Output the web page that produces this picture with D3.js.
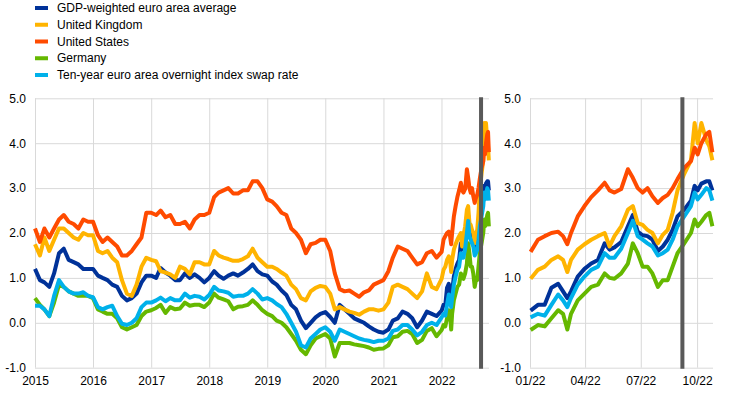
<!DOCTYPE html>
<html>
<head>
<meta charset="utf-8">
<script src="https://cdnjs.cloudflare.com/ajax/libs/d3/7.8.5/d3.min.js"></script>
<style>
  body { margin: 0; background: #fff; }
  svg { display: block; font-family: Arial, "Liberation Sans", sans-serif; }
</style>
</head>
<body>
<svg id="chart" width="742" height="393"></svg>
<script>
// legend / series
const seriesNames = [
    "GDP-weighted euro area average",
    "United Kingdom",
    "United States",
    "Germany",
    "Ten-year euro area overnight index swap rate"
];
const seriesColors = ["#003299", "#FFB400", "#FF4B00", "#65B800", "#00B1EA"];

// month starts 2015-2021, then finer points through 2022
const dates2022 = ["2022-01-02","2022-01-14","2022-01-25","2022-02-05","2022-02-16","2022-02-24",
    "2022-03-03","2022-03-09","2022-03-20","2022-03-31","2022-04-11","2022-04-22","2022-05-03",
    "2022-05-11","2022-05-19","2022-05-30","2022-06-10","2022-06-18","2022-06-26","2022-07-04",
    "2022-07-12","2022-07-20","2022-07-29","2022-08-06","2022-08-14","2022-08-22","2022-08-30",
    "2022-09-10","2022-09-21","2022-09-27","2022-10-02","2022-10-08","2022-10-16","2022-10-21",
    "2022-10-26"];

const euroArea = [
    1.2, 0.95, 0.9, 0.8, 1.1, 1.55, 1.65, 1.4, 1.35, 1.3, 1.2, 1.2,
    1.2, 1.05, 1.0, 0.95, 0.85, 0.8, 0.6, 0.5, 0.55, 0.65, 0.9, 1.05,
    1.05, 1.0, 1.22, 1.12, 1.05, 0.95, 0.95, 1.1, 1.0, 1.08, 1.0, 0.9,
    1.0, 1.15, 1.05, 0.98, 1.05, 1.1, 1.05, 1.12, 1.2, 1.3, 1.15, 1.08,
    1.05, 0.92, 0.85, 0.72, 0.62, 0.4, 0.3, 0.05, -0.12, 0.0, 0.12, 0.2,
    0.24, 0.13, 0.0, 0.4, 0.3, 0.2, 0.1, 0.05, 0.0, -0.08, -0.15, -0.2,
    -0.22, -0.15, 0.05, 0.1, 0.25, 0.2, 0.1, -0.1, 0.05, 0.25, 0.2, 0.15,
    0.27, 0.4, 0.4, 0.78, 0.87, 0.7, 0.55, 0.7, 1.03, 1.2, 1.32, 1.4, 1.77, 1.63, 1.68, 1.8,
    2.15, 2.4, 2.03, 1.95, 1.93, 1.85, 1.6, 1.7, 1.85, 2.07, 2.37, 2.52, 2.72, 3.05, 2.95,
    3.1, 3.15, 3.15, 2.95
];
const unitedKingdom = [
    1.75, 1.5, 1.9, 1.6, 1.85, 2.1, 2.1, 2.0, 1.9, 1.85, 2.0, 1.95,
    1.95, 1.6, 1.55, 1.6, 1.45, 1.35, 0.95, 0.65, 0.6, 0.85, 1.25, 1.45,
    1.4, 1.37, 1.15, 1.12, 1.08, 1.0, 1.25, 1.2, 1.08, 1.35, 1.35, 1.3,
    1.3, 1.6, 1.5, 1.45, 1.42, 1.38, 1.38, 1.42, 1.48, 1.65, 1.45, 1.35,
    1.25, 1.25, 1.2, 1.12, 1.05, 0.85, 0.75, 0.55, 0.5, 0.7, 0.78, 0.82,
    0.8, 0.65, 0.3, 0.35, 0.3, 0.25, 0.22, 0.18, 0.25, 0.3, 0.3, 0.27,
    0.3, 0.45, 0.8, 0.85, 0.8, 0.75, 0.65, 0.55, 0.7, 1.1, 0.8, 0.75,
    0.98, 1.18, 1.25, 1.4, 1.48, 1.4, 1.13, 1.4, 1.63, 1.75, 1.85, 1.93, 2.0, 1.7, 1.93, 2.15,
    2.52, 2.6, 2.22, 2.18, 2.07, 2.0, 1.77, 1.96, 2.07, 2.45, 2.95, 3.32, 3.62, 4.45, 4.0,
    4.45, 4.07, 3.93, 3.62
];
const unitedStates = [
    2.1, 1.8, 2.1, 1.9, 2.1, 2.3, 2.4, 2.25, 2.2, 2.1, 2.3, 2.25,
    2.25, 1.95, 1.8, 1.9, 1.8, 1.7, 1.5, 1.5, 1.6, 1.75, 1.9, 2.45,
    2.45, 2.4, 2.5, 2.35, 2.4, 2.2, 2.2, 2.25, 2.1, 2.3, 2.4, 2.4,
    2.45, 2.8, 2.9, 2.95, 3.0, 2.88, 2.88, 2.95, 2.95, 3.15, 3.15, 3.0,
    2.75, 2.7, 2.6, 2.45, 2.4, 2.1, 2.0, 1.85, 1.55, 1.75, 1.78, 1.85,
    1.85, 1.6, 1.1, 0.75, 0.7, 0.72, 0.65, 0.58, 0.68, 0.72, 0.85, 0.9,
    0.95, 1.15, 1.45, 1.7, 1.65, 1.6, 1.45, 1.3, 1.35, 1.55, 1.6, 1.45,
    1.58, 1.85, 1.93, 2.0, 2.03, 1.93, 1.75, 2.0, 2.37, 2.6, 2.8, 2.95, 3.12, 2.95, 2.9, 2.98,
    3.42, 3.23, 3.0, 2.9, 3.0, 2.82, 2.67, 2.78, 2.85, 3.0, 3.2, 3.45, 3.6, 3.9, 3.75,
    4.0, 4.2, 4.25, 3.8
];
const germany = [
    0.55, 0.4, 0.3, 0.15, 0.45, 0.85, 0.8, 0.7, 0.65, 0.6, 0.6, 0.6,
    0.55, 0.3, 0.25, 0.2, 0.2, 0.1, -0.1, -0.15, -0.1, -0.05, 0.15, 0.25,
    0.28, 0.33, 0.4, 0.22, 0.35, 0.3, 0.32, 0.45, 0.38, 0.4, 0.4, 0.35,
    0.45, 0.65, 0.56, 0.52, 0.48, 0.3, 0.36, 0.37, 0.4, 0.5, 0.4, 0.28,
    0.2, 0.15, 0.05, 0.0, -0.1, -0.25, -0.4, -0.6, -0.7, -0.5, -0.35, -0.3,
    -0.25, -0.35, -0.75, -0.45, -0.45, -0.45, -0.48, -0.5, -0.52, -0.55, -0.6, -0.58,
    -0.57, -0.5, -0.32, -0.3, -0.2, -0.18, -0.25, -0.45, -0.38, -0.18, -0.12, -0.3,
    -0.16, -0.05, -0.08, 0.1, 0.28, 0.2, -0.15, 0.2, 0.5, 0.65, 0.8, 0.85, 1.1, 1.0, 0.98, 1.1,
    1.32, 1.77, 1.55, 1.25, 1.25, 1.1, 0.8, 0.95, 0.95, 1.25, 1.55, 1.77, 2.0, 2.3, 2.15,
    2.25, 2.4, 2.45, 2.15
];
const oisRate = [
    0.38, 0.38, 0.3, 0.15, 0.6, 0.95, 0.8, 0.7, 0.65, 0.65, 0.68, 0.6,
    0.57, 0.35, 0.3, 0.35, 0.38, 0.15, -0.02, -0.05, 0.0, 0.1, 0.35, 0.45,
    0.45, 0.5, 0.56, 0.48, 0.55, 0.5, 0.5, 0.65, 0.56, 0.6, 0.58, 0.52,
    0.62, 0.8, 0.72, 0.7, 0.67, 0.58, 0.6, 0.6, 0.65, 0.75, 0.65, 0.52,
    0.55, 0.5, 0.42, 0.35, 0.2, 0.0, -0.2, -0.5, -0.55, -0.35, -0.25, -0.15,
    -0.1, -0.2, -0.4, -0.15, -0.2, -0.25, -0.3, -0.35, -0.38, -0.4, -0.43, -0.4,
    -0.4, -0.35, -0.18, -0.15, -0.05, -0.05, -0.15, -0.28, -0.2, -0.05, 0.0, -0.05,
    0.12, 0.2, 0.16, 0.4, 0.63, 0.5, 0.35, 0.55, 0.85, 1.03, 1.18, 1.25, 1.55, 1.45, 1.45, 1.65,
    2.0, 2.27, 1.93, 1.85, 1.77, 1.7, 1.5, 1.55, 1.63, 1.85, 2.15, 2.37, 2.6, 2.9, 2.75,
    2.85, 3.0, 2.95, 2.72
];

const yTicks = [-1, 0, 1, 2, 3, 4, 5];
const leftTicks = ["2015","2016","2017","2018","2019","2020","2021","2022"];
const rightTicks = ["2022-01-01","2022-04-01","2022-07-01","2022-10-01"];
const markerDate = "2022-09-07";

const parseDay = d3.timeParse("%Y-%m-%d");
const dates = d3.timeMonth.range(new Date(2015, 0, 1), new Date(2022, 0, 1))
    .concat(dates2022.map(parseDay));
const allSeries = [euroArea, unitedKingdom, unitedStates, germany, oisRate];

const svg = d3.select("#chart");
const plotTop = 98.3, plotBottom = 367.7;

const y = d3.scaleLinear().domain([-1, 5]).range([plotBottom, plotTop]);
const xLeft = d3.scaleTime()
    .domain([new Date(2015, 0, 1), new Date(2022, 9, 27)])
    .range([35, 489]);
const xRight = d3.scaleTime()
    .domain([new Date(2022, 0, 1), new Date(2022, 9, 27)])
    .range([530, 713]);

function drawPanel(x, tickDates, fmt, startDate) {
    const [x0, x1] = x.range();
    const g = svg.append("g");

    const yAxis = g.append("g")
        .attr("transform", `translate(${x0},0)`)
        .call(d3.axisLeft(y).tickValues(yTicks).tickSize(-(x1 - x0))
            .tickPadding(9).tickFormat(d => d.toFixed(1)));
    const xAxis = g.append("g")
        .attr("transform", `translate(0,${plotBottom})`)
        .call(d3.axisBottom(x).tickValues(tickDates).tickSize(-(plotBottom - plotTop))
            .tickPadding(9).tickFormat(fmt));

    [yAxis, xAxis].forEach(a => {
        a.select(".domain").remove();
        a.selectAll("line").attr("stroke", "#d9d9d9").attr("stroke-width", 1);
        a.selectAll("text").attr("fill", "#000").style("font-size", "12px")
            .style("font-family", "Arial, 'Liberation Sans', sans-serif");
    });

    const line = d3.line()
        .x(d => x(d[0]))
        .y(d => y(d[1]));

    allSeries.forEach((vals, i) => {
        const pts = dates.map((d, j) => [d, vals[j]]).filter(p => p[0] >= startDate);
        g.append("path")
            .datum(pts)
            .attr("fill", "none")
            .attr("stroke", seriesColors[i])
            .attr("stroke-width", 4)
            .attr("stroke-linejoin", "round")
            .attr("d", line);
    });

    g.append("line")
        .attr("x1", x(parseDay(markerDate))).attr("x2", x(parseDay(markerDate)))
        .attr("y1", plotTop - 1).attr("y2", plotBottom + 1)
        .attr("stroke", "#595959")
        .attr("stroke-width", 4);
}

drawPanel(xLeft, leftTicks.map(d => new Date(+d, 0, 1)), d3.timeFormat("%Y"), new Date(2015, 0, 1));
drawPanel(xRight, rightTicks.map(parseDay), d3.timeFormat("%m/%y"), new Date(2022, 0, 1));

// legend
const legend = svg.append("g").selectAll("g")
    .data(seriesNames)
    .enter()
    .append("g")
    .attr("transform", (d, i) => `translate(35, ${8 + i * 16.75})`);

legend.append("rect")
    .attr("y", -2)
    .attr("width", 13)
    .attr("height", 4)
    .style("fill", (d, i) => seriesColors[i]);

legend.append("text")
    .attr("x", 22)
    .attr("dy", "0.35em")
    .style("font-size", "12px")
    .style("fill", "#000")
    .text(d => d);
</script>
</body>
</html>
